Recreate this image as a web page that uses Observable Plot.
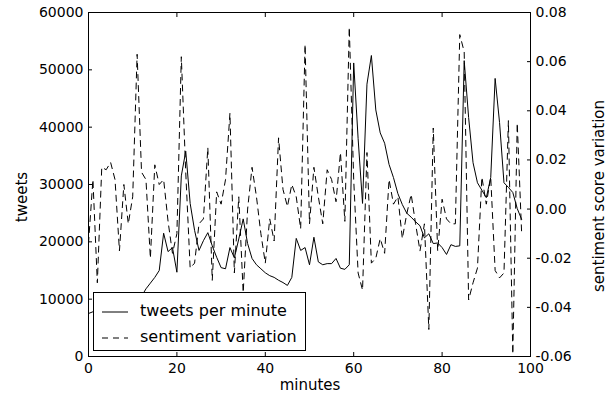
<!DOCTYPE html>
<html><head><meta charset="utf-8">
<script src="https://cdn.jsdelivr.net/npm/d3@7"></script>
<script src="https://cdn.jsdelivr.net/npm/@observablehq/plot@0.6"></script>
<style>
body{margin:0;background:#fff;font-family:"DejaVu Sans",sans-serif;}
#wrap{position:relative;width:615px;height:396px;overflow:hidden;}
.lab{position:absolute;font-size:15px;color:#000;white-space:nowrap;line-height:17px;}
.rot{transform:translate(-50%,-50%) rotate(-90deg);}
.hc{transform:translate(-50%,-50%);}
#legend{position:absolute;left:93px;top:292px;width:213px;height:59px;border:1px solid #000;background:#fff;box-sizing:border-box;}
.ltxt{position:absolute;font-size:16px;line-height:18px;white-space:nowrap;color:#000;}
.lsym{position:absolute;}
</style></head><body><div id="wrap"></div>
<script>
const minutes = [0,1,2,3,4,5,6,7,8,9,10,11,12,13,14,15,16,17,18,19,20,21,22,23,24,25,26,27,28,29,30,31,32,33,34,35,36,37,38,39,40,41,42,43,44,45,46,47,48,49,50,51,52,53,54,55,56,57,58,59,60,61,62,63,64,65,66,67,68,69,70,71,72,73,74,75,76,77,78,79,80,81,82,83,84,85,86,87,88,89,90,91,92,93,94,95,96,97,98];
const tweetsPerMinute = [7500,7800,8000,8200,8400,8600,8800,9000,9200,9500,9800,10100,10500,11800,12800,13800,15000,21500,18300,19000,14700,31500,35800,26700,22000,18500,20200,21600,19300,17300,15500,15300,19000,17200,20500,24000,19700,17100,16000,15300,14600,14100,13800,13300,12900,12400,13800,20600,18500,19000,16000,20800,16500,16000,16200,16200,17100,15400,15200,16000,51200,38000,26700,47500,52500,43000,39000,37200,33500,31200,28400,26500,25000,24300,23500,22800,20700,21400,19700,19800,19000,17800,19500,19200,19300,51600,41700,33800,30300,29000,27700,31200,48500,40800,30300,29500,28600,25800,23900];
const sentimentVariation = [-0.014,0.012,-0.030,0.017,0.016,0.019,0.012,-0.017,0.010,-0.006,0.005,0.063,0.015,0.012,-0.020,0.018,0.010,0.012,-0.005,-0.018,-0.010,0.062,0.015,-0.024,-0.022,-0.006,-0.004,0.025,-0.029,0.007,0.002,0.012,0.039,-0.026,0.005,-0.034,0.000,0.017,0.005,-0.010,-0.022,-0.004,-0.013,0.029,0.008,0.001,0.010,0.005,-0.008,0.067,-0.006,0.017,0.005,-0.006,0.016,0.012,0.003,0.023,-0.005,0.074,0.012,-0.026,-0.033,0.023,-0.022,-0.020,-0.012,-0.018,0.012,0.002,0.005,-0.012,-0.002,0.006,-0.006,-0.017,-0.006,-0.049,0.033,-0.017,0.004,-0.004,-0.006,-0.006,0.071,0.064,-0.037,-0.030,-0.024,0.013,0.002,0.013,-0.025,-0.028,-0.026,0.036,-0.059,0.035,-0.010];
const xTicks = [0,20,40,60,80,100];
const tweetTicks = [0,10000,20000,30000,40000,50000,60000];
const sentimentTicks = [-0.06,-0.04,-0.02,0.00,0.02,0.04,0.06,0.08];
const xDomain = [0,100];
const tweetDomain = [0,60000];
const sentimentDomain = [-0.06,0.08];

// map sentiment onto the left (tweets) scale for the twin axis
const toTweet = d3.scaleLinear().domain(sentimentDomain).range(tweetDomain);
const data = minutes.map((m,i)=>({m, t: tweetsPerMinute[i], s: toTweet(sentimentVariation[i])}));
const fmtS = v => { const r = Math.round(v*100)/100; return (r === 0 ? 0 : r).toFixed(2); };

const chart = Plot.plot({
  width: 615, height: 396,
  marginLeft: 88, marginRight: 85, marginTop: 12, marginBottom: 40,
  style: {fontFamily: "DejaVu Sans", fontSize: "14px", color: "#000", background: "#fff", overflow: "visible"},
  x: {domain: xDomain},
  y: {domain: tweetDomain},
  marks: [
    Plot.line(data, {x: "m", y: "t", stroke: "#000", strokeWidth: 1}),
    Plot.line(data, {x: "m", y: "s", stroke: "#000", strokeWidth: 1, strokeDasharray: "6,5"}),
    Plot.frame({stroke: "#000", strokeWidth: 1}),
    Plot.axisX({ticks: xTicks, tickSize: -4, tickPadding: 11, tickFormat: d => String(d), label: null}),
    Plot.axisX({anchor: "top", ticks: xTicks, tickSize: -4, tickFormat: () => "", label: null}),
    Plot.axisY({ticks: tweetTicks, tickSize: -4, tickPadding: 9, tickFormat: d => String(d), label: null}),
    Plot.axisY({anchor: "right", ticks: sentimentTicks.map(v => toTweet(v)), tickSize: -4, tickPadding: 9, tickFormat: v => fmtS(toTweet.invert(v)), label: null})
  ]
});
const wrap = document.getElementById("wrap");
wrap.appendChild(chart);

function addLabel(text, x, y, cls) {
  const d = document.createElement("div");
  d.className = "lab " + cls;
  d.style.left = x + "px"; d.style.top = y + "px";
  d.textContent = text;
  wrap.appendChild(d);
}
addLabel("tweets", 22, 197, "rot");
addLabel("minutes", 310, 385, "hc");
addLabel("sentiment score variation", 599, 196, "rot");

const legend = document.createElement("div");
legend.id = "legend";
legend.innerHTML =
  '<svg class="lsym" style="left:8px;top:17px" width="26" height="4"><line x1="0" y1="2" x2="26" y2="2" stroke="#000" stroke-width="1"/></svg>' +
  '<div class="ltxt" style="left:46px;top:9px">tweets per minute</div>' +
  '<svg class="lsym" style="left:8px;top:43px" width="26" height="4"><line x1="0" y1="2" x2="26" y2="2" stroke="#000" stroke-width="1" stroke-dasharray="6,5"/></svg>' +
  '<div class="ltxt" style="left:46px;top:35px">sentiment variation</div>';
wrap.appendChild(legend);
</script>
</body></html>
